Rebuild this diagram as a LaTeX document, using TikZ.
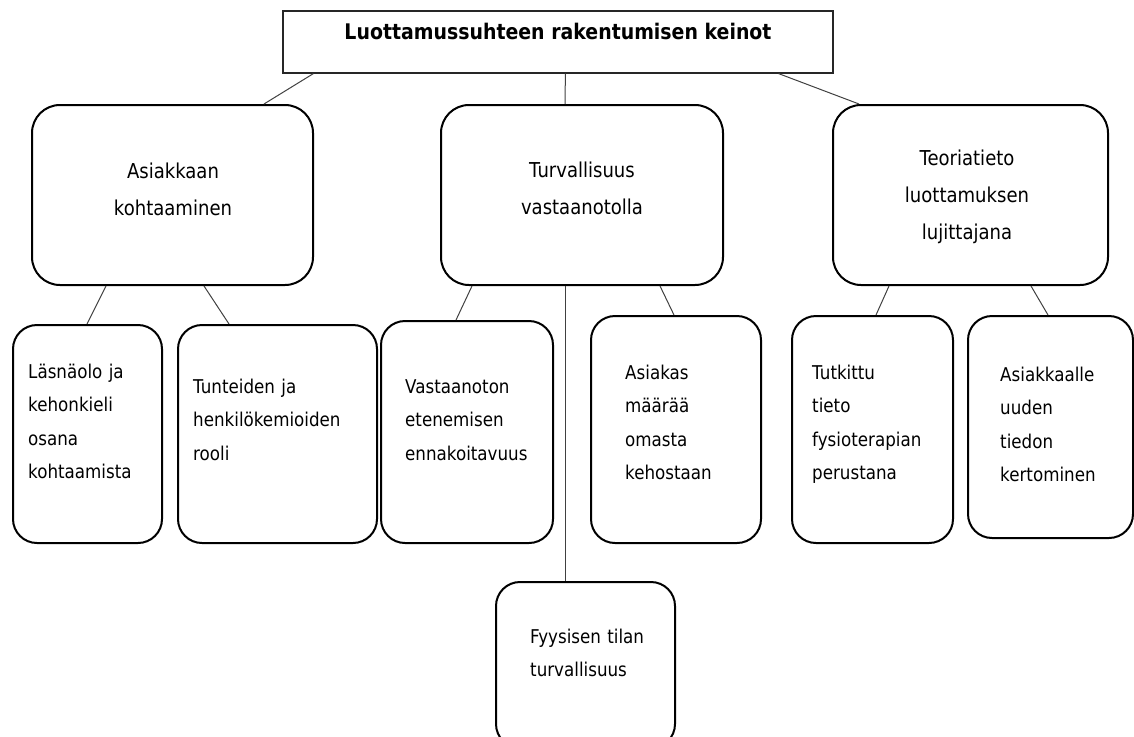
\documentclass[tikz,border=0pt]{standalone}
\usepackage{fontspec}
\setmainfont{DejaVu Sans}[FakeStretch=0.88]

\begin{document}
\begin{tikzpicture}[x=1pt,y=-1pt,
  topbox/.style={draw=black!85,line width=1.2pt,inner sep=0pt},
  mainbox/.style={draw=black,line width=2pt,rounded corners=28pt,inner sep=0pt},
  subbox/.style={draw=black,line width=2pt,rounded corners=24pt,inner sep=0pt},
  toptext/.style={font=\bfseries\fontsize{21.5}{26}\selectfont,anchor=base,inner sep=0pt},
  maintext/.style={font=\fontsize{20.5}{37}\selectfont,text width=260pt,align=center,anchor=base,inner sep=0pt},
  subtext/.style={font=\fontsize{19}{33.5}\selectfont,text width=180pt,align=left,anchor=base west,inner sep=0pt},
  link/.style={draw=black!75,line width=1pt}]

\useasboundingbox (0,0) rectangle (1134,736);

% top one
\node[topbox,minimum width=550pt,minimum height=62pt] (keinot) at (558,42) {};
\node[toptext] (keinotTxt) at (558,39) {Luottamussuhteen rakentumisen keinot};

% left one
\node[mainbox,minimum width=281pt,minimum height=180pt] (kohtaaminen) at (172.5,195) {};
\node[maintext] (kohtaaminenTxt) at (173,178) {Asiakkaan\\kohtaaminen};

\node[subbox,minimum width=149pt,minimum height=218pt] (lasnaolo) at (87.5,434) {};
\node[subtext] (lasnaoloTxt) at (28,378) {Läsnäolo ja\\kehonkieli\\osana\\kohtaamista};

\node[subbox,minimum width=199pt,minimum height=218pt] (tunteet) at (277.5,434) {};
\node[subtext] (tunteetTxt) at (193,393) {Tunteiden ja\\henkilökemioiden\\rooli};

% middle one
\node[mainbox,minimum width=282pt,minimum height=180pt] (turvallisuus) at (582,195) {};
\node[maintext] (turvallisuusTxt) at (582,177) {Turvallisuus\\vastaanotolla};

\node[subbox,minimum width=172pt,minimum height=222pt] (eteneminen) at (467,432) {};
\node[subtext] (eteneminenTxt) at (405,393) {Vastaanoton\\etenemisen\\ennakoitavuus};

\node[subbox,minimum width=170pt,minimum height=227pt] (maaraa) at (676,429.5) {};
\node[subtext] (maaraaTxt) at (625,379) {Asiakas\\määrää\\omasta\\kehostaan};

\node[subbox,minimum width=179pt,minimum height=166pt] (tila) at (585.5,665) {};
\node[subtext] (tilaTxt) at (530,643) {Fyysisen tilan\\turvallisuus};

% right one
\node[mainbox,minimum width=275pt,minimum height=180pt] (teoriatieto) at (970.5,195) {};
\node[maintext] (teoriatietoTxt) at (967,165) {Teoriatieto\\luottamuksen\\lujittajana};

\node[subbox,minimum width=161pt,minimum height=227pt] (tutkittu) at (872.5,429.5) {};
\node[subtext] (tutkittuTxt) at (812,379) {Tutkittu\\tieto\\fysioterapian\\perustana};

\node[subbox,minimum width=165pt,minimum height=222pt] (uusitieto) at (1050.5,427) {};
\node[subtext] (uusitietoTxt) at (1000,381) {Asiakkaalle\\uuden\\tiedon\\kertominen};

% links
\draw[link] ([xshift=31pt]keinot.south west) -- ([xshift=233pt]kohtaaminen.north west);
\draw[link] ([xshift=283pt]keinot.south west) -- ([xshift=125pt]turvallisuus.north west);
\draw[link] ([xshift=-55pt]keinot.south east) -- ([xshift=27pt]teoriatieto.north west);

\draw[link] ([xshift=75pt]kohtaaminen.south west) -- ([xshift=75pt]lasnaolo.north west);
\draw[link] ([xshift=173pt]kohtaaminen.south west) -- ([xshift=52pt]tunteet.north west);

\draw[link] ([xshift=32pt]turvallisuus.south west) -- ([xshift=76pt]eteneminen.north west);
\draw[link] ([xshift=220pt]turvallisuus.south west) -- ([xshift=84pt]maaraa.north west);
\draw[link] ([xshift=125pt]turvallisuus.south west) -- ([xshift=70pt]tila.north west);

\draw[link] ([xshift=57pt]teoriatieto.south west) -- ([xshift=85pt]tutkittu.north west);
\draw[link] ([xshift=199pt]teoriatieto.south west) -- ([xshift=81pt]uusitieto.north west);

\end{tikzpicture}
\end{document}
